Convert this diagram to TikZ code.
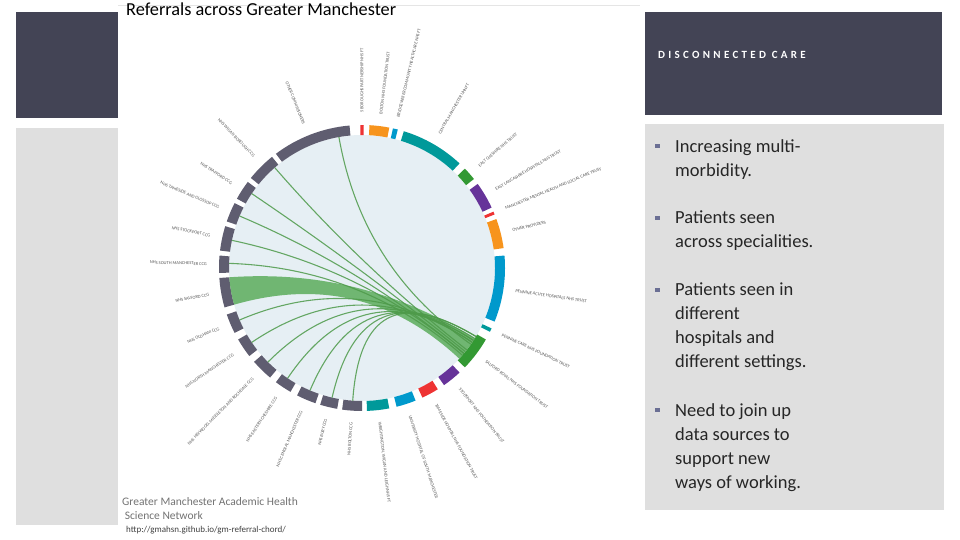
\documentclass[tikz,border=0pt]{standalone}
\usepackage{fontspec}
\setmainfont{Carlito}
\newfontfamily\spaced[LetterSpace=30]{Carlito}
\usetikzlibrary{calc}
\definecolor{slate}{HTML}{434455}
\definecolor{panel}{HTML}{DFDFDF}
\definecolor{cgray}{HTML}{5F5D70}
\definecolor{corange}{HTML}{F7941D}
\definecolor{cteal}{HTML}{00999A}
\definecolor{cblue}{HTML}{0099CC}
\definecolor{cgreen}{HTML}{339933}
\definecolor{cpurple}{HTML}{663399}
\definecolor{cred}{HTML}{EE3333}
\definecolor{cinner}{HTML}{E6EFF4}
\definecolor{chordc}{HTML}{4E9A4A}
\definecolor{bulletc}{HTML}{6B6F94}
\tikzset{
  seglabel/.style={font=\fontsize{4.5}{5}\selectfont, text=black!65, inner sep=0pt},
  bullettext/.style={font=\fontsize{18.5}{24}\selectfont, text=black!85, anchor=north west, align=left, inner sep=0pt},
  thinchord/.style={draw=chordc, line width=1.1pt, opacity=0.85},
}
\newcommand{\seg}[3]{\fill[#3] (#1:133) arc[start angle=#1,end angle=#2,radius=133] -- (#2:143) arc[start angle=#2,end angle=#1,radius=143] -- cycle;}
\newcommand{\labR}[2]{\node[seglabel, anchor=west, rotate=#1] at (#1:155) {#2};}
\newcommand{\labL}[2]{\node[seglabel, anchor=east, rotate=#1+180] at (#1:155) {#2};}
\newcommand{\chrd}[2]{\draw[thinchord] (#1:133) .. controls (#1:44) and (#2:44) .. (#2:133);}
\begin{document}
\begin{tikzpicture}[x=1pt,y=1pt]
\useasboundingbox (0,0) rectangle (960,540);
\fill[white] (0,0) rectangle (960,540);
% left panels
\fill[slate] (16,422) rectangle (122,528);
\fill[panel] (16,15) rectangle (122,412);
% right panels
\fill[slate] (645,425) rectangle (942,528);
\fill[panel] (645,30) rectangle (944,416);
% white image area
\fill[white] (118,10) rectangle (640,535);
\draw[black!10] (118,535) -- (640,535);
\node[anchor=north west, font=\fontsize{18.3}{20}\selectfont, inner sep=0pt] (title) at (126,537) {Referrals across Greater Manchester};
% chord diagram
\begin{scope}[shift={(362,272)}]
\fill[cinner] (0,0) circle (133);
\seg{95}{127}{cgray}
\seg{129}{141}{cgray}
\seg{143}{151}{cgray}
\seg{153}{161}{cgray}
\seg{163}{173}{cgray}
\seg{175}{182}{cgray}
\seg{184}{196}{cgray}
\seg{199}{207}{cgray}
\seg{210}{218}{cgray}
\seg{221}{230}{cgray}
\seg{233}{240}{cgray}
\seg{243}{251}{cgray}
\seg{253}{260}{cgray}
\seg{262}{270}{cgray}
\seg{272}{281}{cteal}
\seg{284}{292}{cblue}
\seg{295}{302}{cred}
\seg{305}{313}{cpurple}
\seg{316}{330}{cgreen}
\seg{333.5}{335}{cteal}
\seg{338}{365}{cblue}
\seg{8}{20}{corange}
\seg{22}{23.2}{cred}
\seg{25}{36}{cpurple}
\seg{38.5}{44}{cgreen}
\seg{47}{73}{cteal}
\seg{75.5}{77.5}{cblue}
\seg{79}{87}{corange}
\seg{89.3}{90.7}{cred}
\fill[cgreen!80!white, opacity=0.85] (184:133) arc[start angle=184,end angle=196,radius=133] .. controls (196:44) and (317:44) .. (317:133) arc[start angle=317,end angle=328,radius=133] .. controls (328:44) and (184:44) .. (184:133) -- cycle;
\chrd{100}{325}
\chrd{131}{322}
\chrd{146}{321}
\chrd{157}{320}
\chrd{168}{320}
\chrd{178}{319}
\chrd{203}{326}
\chrd{214}{326}
\chrd{225}{327}
\chrd{236}{327}
\chrd{247}{328}
\chrd{257}{329}
\chrd{266}{329}
\labL{112}{OTHER COMMISSIONERS}
\labL{134}{NHS WIGAN BOROUGH CCG}
\labL{147}{NHS TRAFFORD CCG}
\labL{157}{NHS TAMESIDE AND GLOSSOP CCG}
\labL{168}{NHS STOCKPORT CCG}
\labL{178.5}{NHS SOUTH MANCHESTER CCG}
\labL{190}{NHS SALFORD CCG}
\labL{203}{NHS OLDHAM CCG}
\labL{214}{NHS NORTH MANCHESTER CCG}
\labL{225.5}{NHS HEYWOOD, MIDDLETON AND ROCHDALE CCG}
\labL{236.5}{NHS EASTERN CHESHIRE CCG}
\labL{247}{NHS CENTRAL MANCHESTER CCG}
\labL{256.5}{NHS BURY CCG}
\labL{266}{NHS BOLTON CCG}
\labR{276.5}{WRIGHTINGTON, WIGAN AND LEIGH NHS FT}
\labR{288}{UNIVERSITY HOSPITAL OF SOUTH MANCHESTER}
\labR{298.5}{TAMESIDE HOSPITAL NHS FOUNDATION TRUST}
\labR{309}{STOCKPORT NHS FOUNDATION TRUST}
\labR{323}{SALFORD ROYAL NHS FOUNDATION TRUST}
\labR{334.5}{PENNINE CARE NHS FOUNDATION TRUST}
\labR{351.5}{PENNINE ACUTE HOSPITALS NHS TRUST}
\labR{14}{OTHER PROVIDERS}
\labR{22.5}{MANCHESTER MENTAL HEALTH AND SOCIAL CARE TRUST}
\labR{30.5}{EAST LANCASHIRE HOSPITALS NHS TRUST}
\labR{41}{EAST CHESHIRE NHS TRUST}
\labR{60}{CENTRAL MANCHESTER UHNFT}
\labR{76.5}{BRIDGEWATER COMMUNITY HEALTHCARE NHS FT}
\labR{83}{BOLTON NHS FOUNDATION TRUST}
\labR{90}{5 BOROUGHS PARTNERSHIP NHS FT}
\end{scope}
\node[anchor=north west, align=left, font=\fontsize{11.5}{14.5}\selectfont, text=black!55, inner sep=0pt] (src) at (122,43) {Greater Manchester Academic Health\\\ Science Network};
\node[anchor=north west, font=\fontsize{9}{10}\selectfont, text=black!75, inner sep=0pt] (url) at (126,14) {http://gmahsn.github.io/gm-referral-chord/};
\node[anchor=west, font=\spaced\bfseries\fontsize{11}{12}\selectfont, text=white, inner sep=0pt] (head) at (658,485) {DISCONNECTED CARE};
\foreach \yy/\txt [count=\i] in {397/{Increasing multi-\\morbidity.}, 325/{Patients seen\\across specialities.}, 253/{Patients seen in\\different\\hospitals and\\different settings.}, 133/{Need to join up\\data sources to\\support new\\ways of working.}}{
  \fill[bulletc] (655,\yy-5.5) rectangle ++(4.5,4.5);
  \node[bullettext] (b\i) at (675,\yy+4) {\txt};
}
\end{tikzpicture}
\end{document}
